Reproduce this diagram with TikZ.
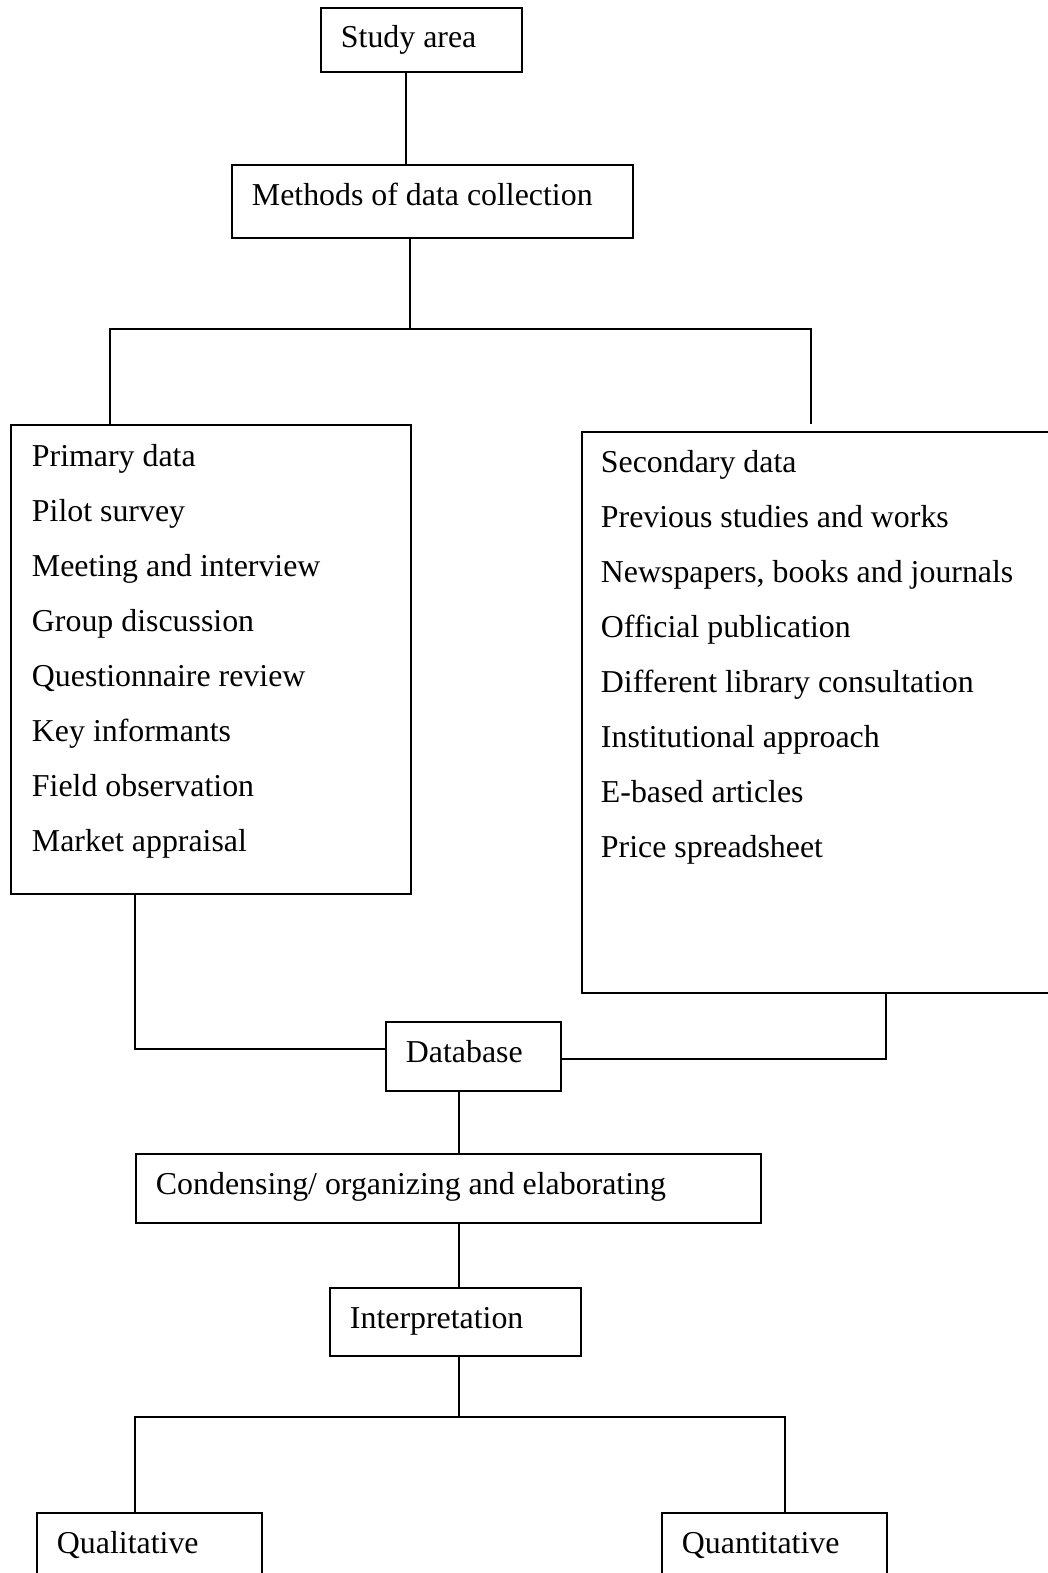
\documentclass[tikz,border=0pt]{standalone}
\usepackage{fontspec}
\setmainfont{Liberation Serif}
\newdimen\pxu
\pxu=0.75pt
\begin{document}
\begin{tikzpicture}[x=0.75pt,y=-0.75pt,
  line width=1.45pt,
  boxnode/.style 2 args={draw, rectangle, inner sep=0pt, anchor=north west,
    minimum width=#1\pxu, minimum height=#2\pxu},
  label/.style={anchor=base west, inner sep=0pt,
    font=\fontsize{23.9}{30}\selectfont},
]
\clip (0,0) rectangle (1048,1573);

% boxes
\node[boxnode={201}{64}]  (study)     at (320,7)    {};
\node[boxnode={401}{73}]  (methods)   at (231,164)  {};
\node[boxnode={400}{469}] (primary)   at (10,424)   {};
\node[boxnode={520}{561}] (secondary) at (581,431)  {};
\node[boxnode={175}{69}]  (database)  at (385,1021) {};
\node[boxnode={625}{69}]  (condense)  at (135,1153) {};
\node[boxnode={251}{68}]  (interp)    at (329,1287) {};
\node[boxnode={225}{120}] (qual)      at (36,1512)  {};
\node[boxnode={225}{120}] (quant)     at (661,1512) {};

% single-line labels
\node[label] (tstudy)    at ([xshift=20\pxu,yshift=-41\pxu]study.north west)    {Study area};
\node[label] (tmethods)  at ([xshift=20\pxu,yshift=-41\pxu]methods.north west)  {Methods of data collection};
\node[label] (tdatabase) at ([xshift=20\pxu,yshift=-41\pxu]database.north west) {Database};
\node[label] (tcondense) at ([xshift=20\pxu,yshift=-41\pxu]condense.north west) {Condensing/ organizing and elaborating};
\node[label] (tinterp)   at ([xshift=20\pxu,yshift=-41\pxu]interp.north west)   {Interpretation};
\node[label] (tqual)     at ([xshift=20\pxu,yshift=-41\pxu]qual.north west)     {Qualitative};
\node[label] (tquant)    at ([xshift=20\pxu,yshift=-41\pxu]quant.north west)    {Quantitative};

% list entries
\foreach \t [count=\i from 0] in {Primary data, Pilot survey, Meeting and interview,
    Group discussion, Questionnaire review, Key informants, Field observation, Market appraisal}
  \node[label] (p\i) at ([xshift=21\pxu,yshift=-42\pxu-55*\i\pxu]primary.north west) {\t};
\foreach \t [count=\i from 0] in {Secondary data, Previous studies and works,
    {Newspapers, books and journals}, Official publication, Different library consultation,
    Institutional approach, E-based articles, Price spreadsheet}
  \node[label] (s\i) at ([xshift=19\pxu,yshift=-41\pxu-55*\i\pxu]secondary.north west) {\t};

% guide coordinates for the connectors
\coordinate (xa) at (406,0);
\coordinate (xb) at (410,329);
\coordinate (xl) at (110,329);
\coordinate (xr) at (811,329);
\coordinate (xrend) at (811,424);
\coordinate (xp) at (135,1049);
\coordinate (xs) at (886,1059);
\coordinate (xc) at (459,0);
\coordinate (xi) at (459,1417);
\coordinate (xql) at (135,1417);
\coordinate (xqr) at (785,1417);

% connectors
\draw (study.south -| xa) -- (methods.north -| xa);
\draw (methods.south -| xb) -- (xb);
\draw (xl |- primary.north) -- (xl) -- (xr) -- (xrend);
\draw (primary.south -| xp) -- (xp) -- (database.west |- xp);
\draw (secondary.south -| xs) -- (xs) -- (database.east |- xs);
\draw (database.south -| xc) -- (condense.north -| xc);
\draw (condense.south -| xc) -- (interp.north -| xc);
\draw (interp.south -| xi) -- (xi);
\draw (qual.north -| xql) -- (xql) -- (xqr) -- (quant.north -| xqr);
\end{tikzpicture}
\end{document}
